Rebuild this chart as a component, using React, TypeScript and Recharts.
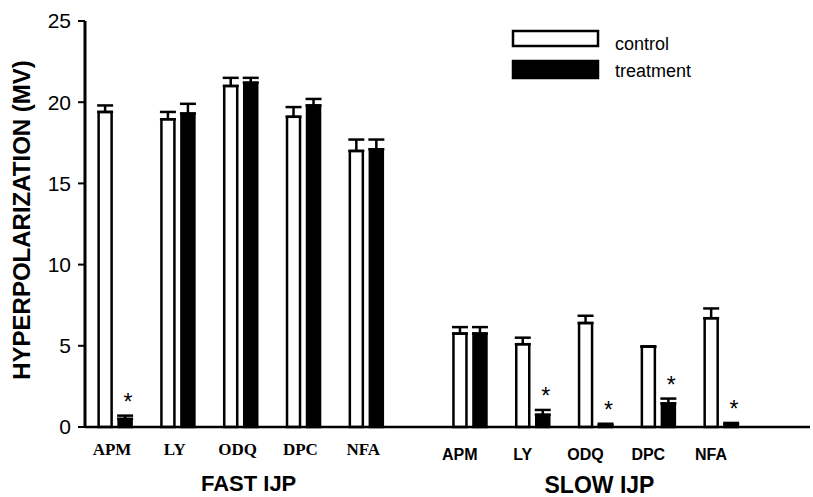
import React from 'react';
import { ComposedChart, Bar, XAxis, YAxis, ErrorBar, Scatter, Legend } from 'recharts';

// ---- data ----
const categories = ['APM', 'LY', 'ODQ', 'DPC', 'NFA'];
const groupTitles = ['FAST IJP', 'SLOW IJP'];
const fastControl = [19.4, 18.95, 21.0, 19.1, 17.0];
const fastControlErr = [0.4, 0.45, 0.5, 0.6, 0.7];
const fastTreatment = [0.5, 19.3, 21.2, 19.8, 17.1];
const fastTreatmentErr = [0.2, 0.6, 0.3, 0.4, 0.6];
const slowControl = [5.75, 5.1, 6.4, 4.95, 6.7];
const slowControlErr = [0.4, 0.4, 0.45, 0, 0.6];
const slowTreatment = [5.75, 0.75, 0.1, 1.45, 0.15];
const slowTreatmentErr = [0.4, 0.3, 0.1, 0.3, 0.1];
const fastSignificant = [true, false, false, false, false];
const slowSignificant = [false, true, true, true, true];
const yTicks = [0, 5, 10, 15, 20, 25];
const seriesNames = ['control', 'treatment'];

// ---- layout constants ----
const GROUP_GAP = 1.65;
const SANS = '"Liberation Sans", Arial, Helvetica, sans-serif';
const SERIF = '"Liberation Serif", "Times New Roman", serif';

type Row = {
  slot: number;
  group: number;
  idx: number;
  name: string;
  control: number;
  treatment: number;
  cErr: number[];
  tErr: number[];
  starY: number | null;
};

const buildGroup = (g: number, c: number[], ce: number[], t: number[], te: number[], sig: boolean[]): Row[] =>
  categories.map((name, i) => ({
    slot: g * (categories.length - 1 + GROUP_GAP) + i,
    group: g,
    idx: i,
    name,
    control: c[i],
    treatment: t[i],
    cErr: [0, ce[i]],
    tErr: [0, te[i]],
    starY: sig[i] ? t[i] + te[i] : null,
  }));

const data: Row[] = [
  ...buildGroup(0, fastControl, fastControlErr, fastTreatment, fastTreatmentErr, fastSignificant),
  ...buildGroup(1, slowControl, slowControlErr, slowTreatment, slowTreatmentErr, slowSignificant),
];

const XTick = (props: any) => {
  const { x, y, payload } = props;
  const row = data.find((r) => Math.abs(r.slot - payload.value) < 1e-6);
  if (!row) return null;
  const fast = row.group === 0;
  return (
    <g>
      <text
        x={x + (fast ? -3 : -10)}
        y={y + (fast ? 28 : 33)}
        textAnchor="middle"
        fontFamily={fast ? SERIF : SANS}
        fontWeight="bold"
        fontSize={fast ? 17 : 16}
        fill="#000"
      >
        {row.name}
      </text>
      {row.idx === 2 && (
        <text
          x={x + (fast ? 8 : 4)}
          y={y + (fast ? 64 : 66)}
          textAnchor="middle"
          fontFamily={SANS}
          fontWeight="bold"
          fontSize={fast ? 22 : 23}
          fill="#000"
        >
          {groupTitles[row.group]}
        </text>
      )}
    </g>
  );
};

const YLabel = (props: any) => {
  const vb = props.viewBox || { x: 0, y: 21, width: 85, height: 406 };
  const cx = 30;
  const cy = vb.y + vb.height / 2 - 4;
  return (
    <text
      x={cx}
      y={cy}
      transform={`rotate(-90, ${cx}, ${cy})`}
      textAnchor="middle"
      fontFamily={SANS}
      fontWeight="bold"
      fontSize={24}
      fill="#000"
    >
      HYPERPOLARIZATION (MV)
    </text>
  );
};

const seriesFill = ['#ffffff', '#000000'];

const LegendContent = () => (
  <svg width={240} height={60}>
    {seriesNames.map((n, i) => (
      <g key={n}>
        <rect
          x={2}
          y={i === 0 ? 2 : 32}
          width={85}
          height={i === 0 ? 15 : 17}
          fill={seriesFill[i]}
          stroke="#000"
          strokeWidth={2.5}
        />
        <text x={104} y={i === 0 ? 21 : 48} fontFamily={SANS} fontSize={18} fill="#000">
          {n}
        </text>
      </g>
    ))}
  </svg>
);

const StarShape = (props: any) => {
  const { cx, cy, payload } = props;
  if (payload == null || payload.starY == null || cx == null || cy == null || isNaN(cy)) return <g />;
  return (
    <text x={cx + 13} y={cy - 6} textAnchor="middle" fontFamily={SANS} fontSize={23} fill="#000">
      *
    </text>
  );
};

export default function App() {
  return (
    <div style={{ position: 'absolute', left: 0, top: 0, background: '#fff' }}>
      <ComposedChart
        width={813}
        height={497}
        data={data}
        margin={{ top: 21, right: 3, bottom: 0, left: 0 }}
        barGap={7}
      >
        <XAxis
          dataKey="slot"
          type="number"
          domain={[-0.478, 11.066]}
          allowDataOverflow
          ticks={data.map((d) => d.slot)}
          interval={0}
          tick={<XTick />}
          tickLine={false}
          tickSize={0}
          tickMargin={0}
          height={70}
          axisLine={{ stroke: '#000', strokeWidth: 2.5 }}
        />
        <YAxis
          type="number"
          domain={[0, 25]}
          ticks={yTicks}
          width={85}
          tickSize={7}
          tickMargin={7}
          tick={{ fill: '#000', fontSize: 21, fontFamily: SANS }}
          tickLine={{ stroke: '#000', strokeWidth: 2 }}
          axisLine={{ stroke: '#000', strokeWidth: 3 }}
          label={<YLabel />}
        />
        <Legend
          layout="vertical"
          align="center"
          verticalAlign="middle"
          content={<LegendContent />}
          wrapperStyle={{ position: 'absolute', left: 511, top: 29, width: 240, height: 60 }}
        />
        <Bar
          dataKey="control"
          name={seriesNames[0]}
          fill={seriesFill[0]}
          stroke="#000"
          strokeWidth={2.5}
          barSize={13}
          isAnimationActive={false}
        >
          <ErrorBar dataKey="cErr" width={8} stroke="#000" strokeWidth={2.5} direction="y" />
        </Bar>
        <Bar
          dataKey="treatment"
          name={seriesNames[1]}
          fill={seriesFill[1]}
          stroke="#000"
          strokeWidth={2.5}
          barSize={13}
          isAnimationActive={false}
        >
          <ErrorBar dataKey="tErr" width={8} stroke="#000" strokeWidth={2.5} direction="y" />
        </Bar>
        <Scatter dataKey="starY" legendType="none" shape={<StarShape />} isAnimationActive={false} />
      </ComposedChart>
    </div>
  );
}
